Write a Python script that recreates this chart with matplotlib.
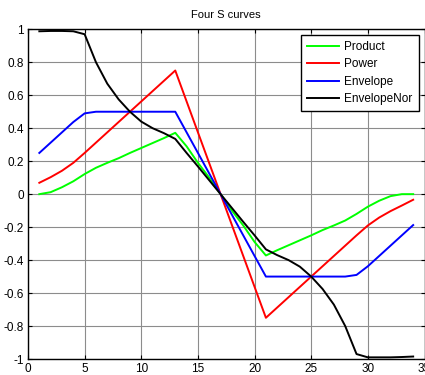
import numpy as np
import matplotlib
matplotlib.use("Agg")
import matplotlib.pyplot as plt

plt.rcParams['font.family'] = ['Liberation Sans', 'DejaVu Sans']

# sample positions
x = np.arange(1, 35)

product = [0.0, 0.012, 0.042, 0.078, 0.122, 0.16, 0.19, 0.218, 0.25, 0.28,
           0.31, 0.34, 0.372, 0.29, 0.19, 0.1, 0.0, -0.1, -0.19, -0.29,
           -0.372, -0.34, -0.31, -0.28, -0.25, -0.218, -0.19, -0.16, -0.12, -0.076,
           -0.04, -0.012, 0.0, 0.0]
power = [0.069, 0.103, 0.142, 0.19, 0.25, 0.3125, 0.375, 0.4375, 0.5, 0.5625,
         0.625, 0.6875, 0.75, 0.5625, 0.375, 0.1875, 0.0, -0.1875, -0.375, -0.5625,
         -0.75, -0.6875, -0.625, -0.5625, -0.5, -0.4375, -0.375, -0.3125, -0.25, -0.19,
         -0.142, -0.103, -0.069, -0.034]
envelope = [0.25, 0.3125, 0.375, 0.4375, 0.49, 0.5, 0.5, 0.5, 0.5, 0.5,
            0.5, 0.5, 0.5, 0.375, 0.25, 0.125, 0.0, -0.125, -0.25, -0.375,
            -0.5, -0.5, -0.5, -0.5, -0.5, -0.5, -0.5, -0.5, -0.49, -0.4375,
            -0.375, -0.3125, -0.25, -0.1875]
envelope_nor = [0.988, 0.99, 0.99, 0.988, 0.97, 0.8, 0.67, 0.575, 0.5, 0.44,
                0.4, 0.37, 0.335, 0.25, 0.168, 0.084, 0.0, -0.084, -0.168, -0.25,
                -0.335, -0.37, -0.4, -0.44, -0.5, -0.575, -0.67, -0.8, -0.97, -0.99,
                -0.99, -0.99, -0.988, -0.985]

labels = ['Product', 'Power', 'Envelope', 'EnvelopeNor']
colors = ['#00ff00', '#ff0000', '#0000ff', '#000000']

fig = plt.figure(figsize=(4.25, 3.75), dpi=100)
ax = fig.add_axes([28 / 425, 16 / 375, 396.5 / 425, 329.7 / 375])

for y, lab, c in zip([product, power, envelope, envelope_nor], labels, colors):
    ax.plot(x, y, color=c, lw=1.4, label=lab)

ax.set_xlim(0, 35)
ax.set_ylim(-1, 1)
ax.set_xticks(range(0, 36, 5))
ax.set_yticks(np.round(np.arange(-1, 1.01, 0.2), 1))
ax.set_yticklabels(['-1', '-0.8', '-0.6', '-0.4', '-0.2', '0', '0.2', '0.4', '0.6', '0.8', '1'])
ax.grid(True, color='0.55', lw=0.8)
ax.tick_params(direction='in', top=True, right=True, labelsize=8.5, length=3, pad=3)
for s in ax.spines.values():
    s.set_linewidth(1.0)
ax.set_title('Four S curves', fontsize=8, pad=8)

leg = ax.legend(loc='upper right', fontsize=8.5, fancybox=False, framealpha=1,
                edgecolor='black', handlelength=2.7, borderaxespad=0.5,
                labelspacing=0.45, handletextpad=0.5, borderpad=0.5)
leg.get_frame().set_linewidth(1.0)

fig.savefig('out.png', dpi=100)
